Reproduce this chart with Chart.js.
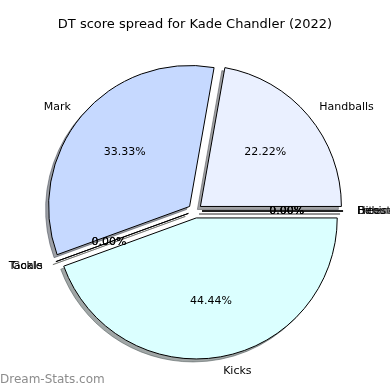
<!DOCTYPE html>
<html lang="en">
<head>
    <title>DT score spread</title>
    <script src="https://cdn.jsdelivr.net/npm/chart.js"></script>
    <style>
        html, body { margin: 0; padding: 0; background: #fff; }
    </style>
</head>
<body>
    <canvas id="pieChart" width="390" height="390"></canvas>

    <script>
        // slices in the original (counter-clockwise from 3 o'clock) order
        const categories = ['Handballs', 'Mark', 'Tackle', 'Goals', 'Kicks', 'Hitouts', 'Behinds', 'Frees'];
        const dtPoints = [6, 9, 0, 0, 12, 0, 0, 0];
        const sliceColors = ['#eaf0ff', '#c6d9ff', '#e0ffe0', '#ffe0e0', '#dbffff', '#ffffe0', '#f0e0ff', '#e0e0e0'];

        const EXPLODE = 0.05;      // fraction of radius
        const SHADOW_DX = -3;
        const SHADOW_DY = 3;
        const FONT = '"DejaVu Sans", sans-serif';

        // Chart.js goes clockwise, so feed it reversed and start at 3 o'clock
        const labels = categories.slice().reverse();
        const values = dtPoints.slice().reverse();
        const colors = sliceColors.slice().reverse();
        const total = dtPoints.reduce((a, b) => a + b, 0);

        function hexRgb(hex) {
            const n = parseInt(hex.slice(1), 16);
            return [(n >> 16) & 255, (n >> 8) & 255, n & 255];
        }

        // explode every wedge along its middle angle, draw empty wedges as a line
        const baseArcDraw = Chart.ArcElement.prototype.draw;
        Chart.ArcElement.prototype.draw = function (ctx) {
            const mid = (this.startAngle + this.endAngle) / 2;
            const d = EXPLODE * this.outerRadius;
            ctx.save();
            ctx.translate(Math.cos(mid) * d, Math.sin(mid) * d);
            if (this.circumference === 0) {
                ctx.beginPath();
                ctx.moveTo(this.x, this.y);
                ctx.lineTo(this.x + Math.cos(mid) * this.outerRadius, this.y + Math.sin(mid) * this.outerRadius);
                ctx.strokeStyle = this.options.borderColor;
                ctx.lineWidth = this.options.borderWidth;
                ctx.stroke();
            } else {
                baseArcDraw.call(this, ctx);
            }
            ctx.restore();
        };

        const pieExtras = {
            id: 'pieExtras',
            beforeDatasetsDraw(chart) {
                // shadows under all wedges
                const ctx = chart.ctx;
                const meta = chart.getDatasetMeta(0);
                ctx.save();
                meta.data.forEach((arc, i) => {
                    const mid = (arc.startAngle + arc.endAngle) / 2;
                    const r = arc.outerRadius;
                    const ox = arc.x + Math.cos(mid) * EXPLODE * r + SHADOW_DX;
                    const oy = arc.y + Math.sin(mid) * EXPLODE * r + SHADOW_DY;
                    const [cr, cg, cb] = hexRgb(colors[i]);
                    const shade = `rgba(${cr * 0.3}, ${cg * 0.3}, ${cb * 0.3}, 0.5)`;
                    ctx.fillStyle = shade;
                    ctx.strokeStyle = shade;
                    ctx.lineWidth = 1;
                    ctx.beginPath();
                    ctx.moveTo(ox, oy);
                    if (arc.circumference === 0) {
                        ctx.lineTo(ox + Math.cos(mid) * r, oy + Math.sin(mid) * r);
                        ctx.stroke();
                    } else {
                        ctx.arc(ox, oy, r, arc.startAngle, arc.endAngle);
                        ctx.closePath();
                        ctx.fill();
                        ctx.stroke();
                    }
                });
                ctx.restore();
            },
            afterDatasetsDraw(chart) {
                const ctx = chart.ctx;
                const meta = chart.getDatasetMeta(0);
                ctx.save();
                ctx.fillStyle = '#000';
                ctx.textBaseline = 'middle';
                ctx.font = '11px ' + FONT;
                meta.data.forEach((arc, i) => {
                    const mid = (arc.startAngle + arc.endAngle) / 2;
                    const r = arc.outerRadius;
                    const cos = Math.cos(mid), sin = Math.sin(mid);
                    const cx = arc.x + cos * EXPLODE * r;
                    const cy = arc.y + sin * EXPLODE * r;
                    ctx.textAlign = cos > 0 ? 'left' : 'right';
                    ctx.fillText(labels[i], cx + 1.1 * r * cos, cy + 1.1 * r * sin);
                    ctx.textAlign = 'center';
                    const pct = (values[i] / total * 100).toFixed(2) + '%';
                    ctx.fillText(pct, cx + 0.6 * r * cos, cy + 0.6 * r * sin);
                });
                ctx.restore();
            },
            afterDraw(chart) {
                const ctx = chart.ctx;
                ctx.save();
                ctx.textBaseline = 'middle';
                ctx.textAlign = 'center';
                ctx.fillStyle = '#000';
                ctx.font = '13px ' + FONT;
                ctx.fillText('DT score spread for Kade Chandler (2022)', 195, 25);
                ctx.textAlign = 'left';
                ctx.fillStyle = '#8c8c8c';
                ctx.font = '12px ' + FONT;
                ctx.fillText('Dream-Stats.com', 0, 380);
                ctx.restore();
            }
        };

        const pieCtx = document.getElementById('pieChart').getContext('2d');

        let pieChart = new Chart(pieCtx, {
            type: 'pie',
            data: {
                labels: labels,
                datasets: [{
                    data: values,
                    backgroundColor: colors,
                    borderColor: '#000',
                    borderWidth: 1,
                    borderJoinStyle: 'miter'
                }]
            },
            options: {
                responsive: false,
                animation: false,
                rotation: 90,
                layout: {
                    padding: { left: 53.5, right: 53.5, top: 69.5, bottom: 37.5 }
                },
                plugins: {
                    legend: { display: false },
                    tooltip: { enabled: false },
                    title: { display: false }
                }
            },
            plugins: [pieExtras]
        });
    </script>
</body>
</html>
